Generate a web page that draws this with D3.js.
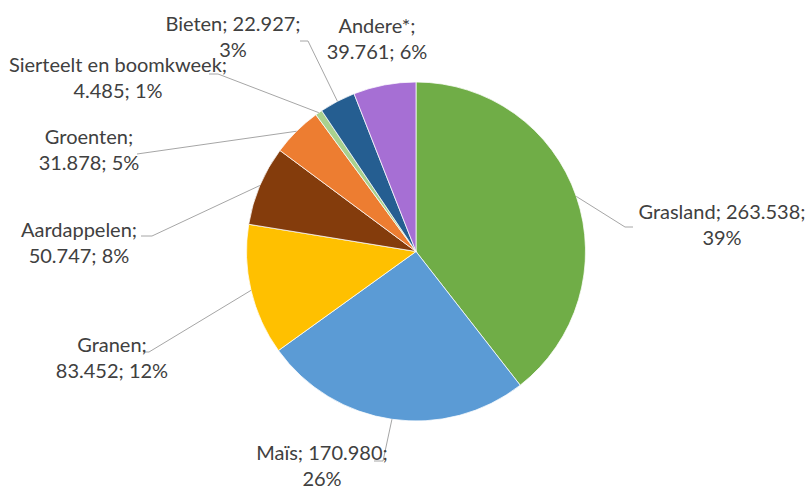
<!DOCTYPE html>
<html>
<head>
<meta charset="utf-8">
<script src="https://cdn.jsdelivr.net/npm/d3@7"></script>
<style>
  body { margin: 0; background: #fff; }
  svg { display: block; }
  text { font-family: Lato, "Open Sans", sans-serif; font-size: 20px; fill: #404040; }
</style>
</head>
<body>
<svg id="chart"></svg>
<script>
const width = 806
const height = 486

// data, clockwise from 12 o'clock
const categories = ['Grasland', 'Maïs', 'Granen', 'Aardappelen', 'Groenten',
  'Sierteelt en boomkweek', 'Bieten', 'Andere*']
const values = [263538, 170980, 83452, 50747, 31878, 4485, 22927, 39761]
const colors = ['#70AD47', '#5B9BD5', '#FFC000', '#843C0C', '#ED7D31',
  '#A9D18E', '#255E91', '#A66FD4']
// how many label parts go on the first line (name, value, percent)
const firstLineParts = [2, 2, 1, 1, 1, 1, 2, 1]

// label layout: text centre x, first baseline y, leader elbow x/y, leader end x (null = no leader)
const labelLayout = [
  [722, 219, 625, 227, 633],
  [322, 460, 383, 461, 374],
  [112, 352, 149, 352, 143],
  [79, 237, 152, 236, 141],
  [89, 144, 137, 154, 137],
  [118, 72, 218, 74, 209],
  [233, 31, 308, 41, 300],
  [377, 33, null, null, null]
]

const cx = 416, cy = 251.5, radius = 169.5
const lineHeight = 26

const nl = d3.formatLocale({decimal: ',', thousands: '.', grouping: [3], currency: ['€', '']})
const fmt = nl.format(',d')
const total = d3.sum(values)

const svg = d3.select('#chart')
  .attr('width', width)
  .attr('height', height)

const pie = d3.pie().sort(null).value(d => d)
const arcs = pie(values)
const arc = d3.arc().innerRadius(0).outerRadius(radius)

const g = svg.append('g').attr('transform', `translate(${cx},${cy})`)

g.selectAll('path.slice')
  .data(arcs)
  .join('path')
  .attr('class', 'slice')
  .attr('d', arc)
  .attr('fill', (d, i) => colors[i])
  .attr('stroke', '#fff')
  .attr('stroke-width', 0.75)

// leader lines
arcs.forEach((a, i) => {
  const L = labelLayout[i]
  if (L[2] == null) return
  const mid = (a.startAngle + a.endAngle) / 2
  const sx = cx + radius * Math.sin(mid)
  const sy = cy - radius * Math.cos(mid)
  svg.append('path')
    .attr('d', d3.line()([[sx, sy], [L[2], L[3]], [L[4], L[3]]]))
    .attr('fill', 'none')
    .attr('stroke', '#a6a6a6')
    .attr('stroke-width', 1)
})

// labels
categories.forEach((c, i) => {
  const L = labelLayout[i]
  const parts = [c, fmt(values[i]), Math.round(values[i] / total * 100) + '%']
  const n = firstLineParts[i]
  const lines = [parts.slice(0, n).join('; ') + ';', parts.slice(n).join('; ')]
  const t = svg.append('text')
    .attr('text-anchor', 'middle')
  lines.forEach((s, j) => {
    t.append('tspan')
      .attr('x', L[0])
      .attr('y', L[1] + j * lineHeight)
      .text(s)
  })
})
</script>
</body>
</html>
